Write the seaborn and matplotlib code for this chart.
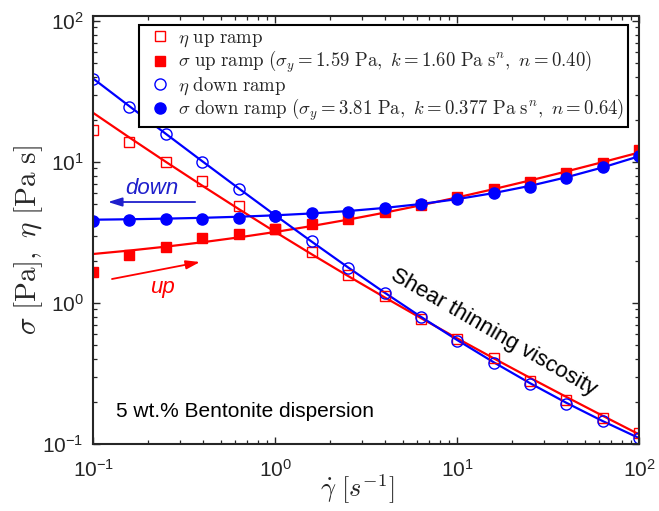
import numpy as np
import pandas as pd
import matplotlib
matplotlib.use("Agg")
import matplotlib.pyplot as plt
from matplotlib.font_manager import FontProperties
import seaborn as sns

# ---------------- data ----------------
shear_rate = [0.1, 0.158, 0.251, 0.398, 0.631, 1.0, 1.585, 2.512, 3.981,
              6.31, 10.0, 15.85, 25.12, 39.81, 63.1, 100.0]
sigma_up = [1.66, 2.19, 2.51, 2.88, 3.08, 3.33, 3.62, 3.93, 4.45, 4.97,
            5.69, 6.43, 7.24, 8.35, 9.84, 12.2]
sigma_down = [3.84, 3.88, 3.93, 3.96, 4.01, 4.15, 4.38, 4.45, 4.70, 5.02,
              5.45, 6.01, 6.70, 7.69, 9.21, 11.1]
eta_up = [16.8, 13.9, 10.0, 7.33, 4.91, 3.33, 2.29, 1.57, 1.12, 0.774,
          0.558, 0.406, 0.282, 0.205, 0.154, 0.120]
eta_down = [38.5, 24.7, 15.7, 10.0, 6.46, 4.15, 2.77, 1.76, 1.18, 0.79,
            0.542, 0.374, 0.267, 0.192, 0.146, 0.110]

# Herschel-Bulkley fit parameters shown in the legend
fit_up = dict(sy=1.59, k=1.60, n=0.40)
fit_down = dict(sy=3.81, k=0.377, n=0.64)

labels = [r'$\eta\ \mathrm{up\ ramp}$',
          r'$\sigma\ \mathrm{up\ ramp}\ (\sigma_y = 1.59\ \mathrm{Pa},\ k = 1.60\ \mathrm{Pa\ s}^n,\ n = 0.40)$',
          r'$\eta\ \mathrm{down\ ramp}$',
          r'$\sigma\ \mathrm{down\ ramp}\ (\sigma_y = 3.81\ \mathrm{Pa},\ k = 0.377\ \mathrm{Pa\ s}^n,\ n = 0.64)$']

# ---------------- style ----------------
sns.set_style("white")
plt.rcParams['font.family'] = ['Liberation Sans', 'DejaVu Sans']
plt.rcParams['axes.linewidth'] = 1.5
plt.rcParams['xtick.direction'] = 'in'
plt.rcParams['ytick.direction'] = 'in'

RED = '#ff0000'
BLUE = '#0000ff'

fig = plt.figure(figsize=(6.59, 5.11), dpi=100)
ax = fig.add_axes([0.1416, 0.1311, 0.8285, 0.8376])

g = np.array(shear_rate)
df = pd.DataFrame({'g': g})
for name, p in (('up', fit_up), ('down', fit_down)):
    df['sig_' + name] = p['sy'] + p['k'] * g ** p['n']
    df['eta_' + name] = df['sig_' + name] / g

# fit lines
sns.lineplot(data=df, x='g', y='eta_up', color=RED, lw=1.6, ax=ax, sort=False)
sns.lineplot(data=df, x='g', y='sig_up', color=RED, lw=1.6, ax=ax, sort=False)
sns.lineplot(data=df, x='g', y='eta_down', color=BLUE, lw=1.6, ax=ax, sort=False)
sns.lineplot(data=df, x='g', y='sig_down', color=BLUE, lw=1.6, ax=ax, sort=False)

handles = []
specs = [(eta_up, 's', RED, 'none', 7.5),
         (sigma_up, 's', RED, RED, 7.5),
         (eta_down, 'o', BLUE, 'none', 8),
         (sigma_down, 'o', BLUE, BLUE, 8)]
for vals, mk, col, fc, ms in specs:
    sns.lineplot(x=shear_rate, y=vals, marker=mk, linestyle='none', color=col,
                 mfc=fc, mec=col, ms=ms, mew=1.0, ax=ax, sort=False)
    handles.append(ax.lines[-1])

ax.set_xscale('log')
ax.set_yscale('log')
ax.set_xlim(0.1, 100)
ax.set_ylim(0.1, 108.5)

for s in ax.spines.values():
    s.set_visible(True)
    s.set_color('#262626')
    s.set_linewidth(1.5)

ax.tick_params(which='both', bottom=True, left=True, top=True, right=True,
               direction='in', color='#262626')
ax.tick_params(which='major', length=5, width=1.0, labelsize=15)
ax.tick_params(which='minor', length=3.2, width=0.9)
ax.tick_params(axis='x', which='major', pad=11)
ax.tick_params(axis='y', which='major', pad=7)
ax.xaxis.set_major_locator(matplotlib.ticker.LogLocator(base=10, numticks=10))
ax.xaxis.set_minor_locator(matplotlib.ticker.LogLocator(base=10, subs=np.arange(2, 10), numticks=20))
ax.yaxis.set_minor_locator(matplotlib.ticker.LogLocator(base=10, subs=np.arange(2, 10), numticks=20))
ax.grid(False)

xlab_fp = FontProperties(family='DejaVu Serif', size=19, math_fontfamily='cm')
ylab_fp = FontProperties(family='DejaVu Serif', size=21, math_fontfamily='cm')
ax.set_xlabel(r'$\dot{\gamma}\ [s^{-1}]$', fontproperties=xlab_fp)
ax.set_ylabel(r'$\sigma\ [\mathrm{Pa}],\ \eta\ [\mathrm{Pa\ s}]$', fontproperties=ylab_fp)
ax.xaxis.set_label_coords(0.483, -0.066)
ax.yaxis.set_label_coords(-0.088, 0.477)

leg_fp = FontProperties(family='DejaVu Serif', size=13.5, math_fontfamily='cm')
leg = ax.legend(handles, labels, loc='upper right', bbox_to_anchor=(0.9793, 0.979),
                borderaxespad=0, prop=leg_fp, frameon=True, fancybox=False,
                edgecolor='black', framealpha=1, handlelength=1.9,
                handletextpad=0.0, labelspacing=0.0, borderpad=0.2)
leg.get_frame().set_linewidth(1.5)

# annotations
ax.text(0.107, 0.596, 'down', transform=ax.transAxes, color='#1f1fcc', fontsize=16,
        style='italic', ha='center', va='center')
ax.annotate('', xy=(0.0269, 0.5654), xytext=(0.1865, 0.5654), xycoords='axes fraction',
            arrowprops=dict(arrowstyle='-|>,head_length=0.7,head_width=0.22',
                            color='#1f1fcc', lw=1.3, shrinkA=0, shrinkB=0, mutation_scale=12))
ax.text(0.126, 0.3645, 'up', transform=ax.transAxes, color=RED, fontsize=16,
        style='italic', ha='center', va='center')
ax.annotate('', xy=(0.1954, 0.4252), xytext=(0.0342, 0.3855), xycoords='axes fraction',
            arrowprops=dict(arrowstyle='-|>,head_length=0.7,head_width=0.22',
                            color=RED, lw=1.3, shrinkA=0, shrinkB=0, mutation_scale=12))
ax.text(0.734, 0.2617, 'Shear thinning viscosity', transform=ax.transAxes, fontsize=16,
        rotation=-30, rotation_mode='anchor', ha='center', va='center', color='black')
ax.text(0.0416, 0.0771, '5 wt.% Bentonite dispersion', transform=ax.transAxes,
        fontsize=15, ha='left', va='center', color='black')

fig.savefig('out.png', dpi=100)
